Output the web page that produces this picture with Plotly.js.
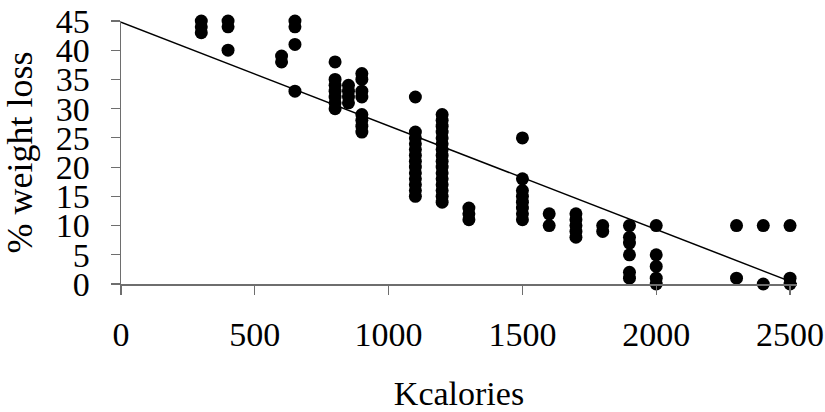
<!DOCTYPE html>
<html>
<head>
<meta charset="utf-8">
<script src="https://cdn.plot.ly/plotly-3.0.1.min.js"></script>
<style>html,body{margin:0;padding:0;background:#fff;}#chart{width:825px;height:412px;}</style>
</head>
<body>
<div id="chart"></div>
<script>
// Kcalories per observation
var kcal = [
  300,300,300,
  400,400,400,
  600,600,
  650,650,650,650,
  800,800,800,800,800,800,800,
  850,850,850,850,
  900,900,900,900,900,900,900,900,
  1100,1100,1100,1100,1100,1100,1100,1100,1100,1100,1100,1100,1100,
  1200,1200,1200,1200,1200,1200,1200,1200,1200,1200,1200,1200,1200,1200,1200,1200,
  1300,1300,1300,
  1500,1500,1500,1500,1500,1500,1500,1500,
  1600,1600,
  1700,1700,1700,1700,1700,
  1800,1800,
  1900,1900,1900,1900,1900,1900,
  2000,2000,2000,2000,2000,
  2300,2300,
  2400,2400,
  2500,2500,2500
];
// % weight loss per observation
var weightLoss = [
  45,44,43,
  45,44,40,
  39,38,
  45,44,41,33,
  38,35,34,33,32,31,30,
  34,33,32,31,
  36,35,33,32,29,28,27,26,
  32,26,25,24,23,22,21,20,19,18,17,16,15,
  29,28,27,26,25,24,23,22,21,20,19,18,17,16,15,14,
  13,12,11,
  25,18,16,15,14,13,12,11,
  12,10,
  12,11,10,9,8,
  10,9,
  10,8,7,5,2,1,
  10,5,3,1,0,
  10,1,
  10,0,
  10,1,0
];
// Linear trendline end points
var trendX = [0, 2526];
var trendY = [44.8, 0];

var xTicks = [0, 500, 1000, 1500, 2000, 2500];
var yTicks = [0, 5, 10, 15, 20, 25, 30, 35, 40, 45];

var font = "Liberation Serif, Times New Roman, serif";

var traces = [
  {
    x: kcal, y: weightLoss, type: 'scatter', mode: 'markers',
    marker: {color: '#000', size: 13},
    cliponaxis: false, hoverinfo: 'skip'
  },
  {
    x: trendX, y: trendY, type: 'scatter', mode: 'lines',
    line: {color: '#000', width: 1.5},
    cliponaxis: false, hoverinfo: 'skip'
  }
];

var axisCommon = {
  showline: true, linecolor: '#6e6e6e', linewidth: 1.5,
  ticks: 'outside', ticklen: 9, tickcolor: '#6e6e6e', tickwidth: 1.2,
  showgrid: false, zeroline: false,
  tickfont: {family: font, size: 34, color: '#000'}
};

var layout = {
  width: 825, height: 412,
  margin: {l: 121, r: 28, t: 21, b: 128},
  paper_bgcolor: '#fff', plot_bgcolor: '#fff',
  showlegend: false,
  xaxis: Object.assign({}, axisCommon, {
    range: [0, 2526], tickvals: xTicks, ticktext: xTicks.map(String),
    ticklabelstandoff: 11,
    title: {text: 'Kcalories', font: {family: font, size: 34, color: '#000'}, standoff: 32}
  }),
  yaxis: Object.assign({}, axisCommon, {
    range: [0, 45], tickvals: yTicks, ticktext: yTicks.map(String),
    ticklabelstandoff: 14,
    title: {text: '% weight loss', font: {family: font, size: 36, color: '#000'}, standoff: 12}
  })
};

Plotly.newPlot('chart', traces, layout, {staticPlot: true, displayModeBar: false});
</script>
</body>
</html>
